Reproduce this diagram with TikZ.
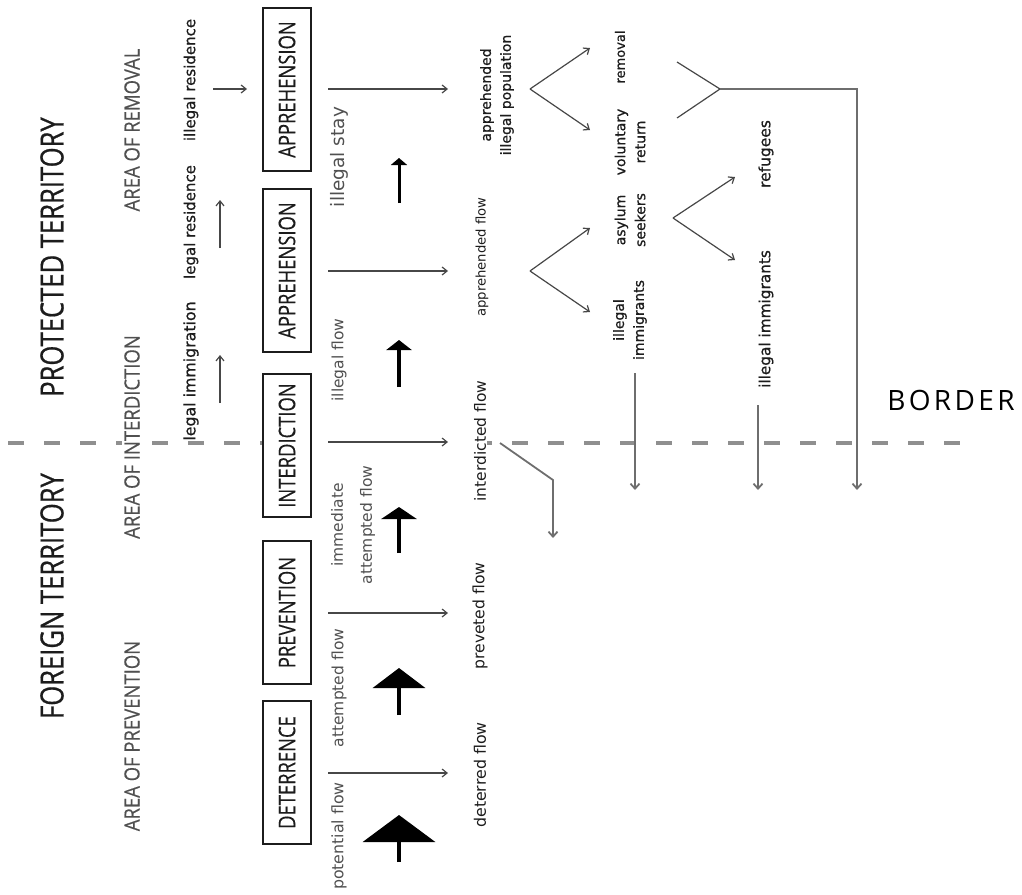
\documentclass[tikz,border=0pt]{standalone}
\usepackage{fontspec}
\setmainfont{DejaVu Sans}
\newfontfamily\bigf[FakeStretch=0.8,FakeBold=0.6]{Open Sans}
\newfontfamily\boxf[FakeStretch=0.8,FakeBold=0.3]{Open Sans}
\newfontfamily\areaf[FakeStretch=0.88,FakeBold=0.3]{Open Sans}
\newfontfamily\labf{DejaVu Sans}
\newfontfamily\labbf[FakeBold=0.8]{DejaVu Sans}
\newfontfamily\bordf[LetterSpace=12]{Open Sans}
\usetikzlibrary{arrows.meta}
\definecolor{ink}{HTML}{1C1C1C}
\definecolor{soft}{HTML}{505050}
\definecolor{linec}{HTML}{474747}
\definecolor{routec}{HTML}{6E6E6E}
\definecolor{bordc}{HTML}{8F8F8F}
\begin{document}
\begin{tikzpicture}[x=1pt,y=-1pt,
  big/.style={rotate=90,inner sep=0pt,text=ink,font=\bigf\fontsize{32}{32}\selectfont},
  area/.style={rotate=90,inner sep=2pt,text=soft,font=\areaf\fontsize{21}{21}\selectfont},
  stagebox/.style={rotate=90,draw=ink,line width=1.6pt,fill=white,minimum height=48.4pt,
    inner sep=0pt,text=ink,font=\boxf\fontsize{23}{23}\selectfont},
  lab/.style n args={2}{rotate=90,inner sep=1pt,align=center,text=ink,font=\labf\fontsize{#1}{#2}\selectfont},
  blab/.style n args={2}{rotate=90,inner sep=1pt,align=center,text=ink,font=\labbf\fontsize{#1}{#2}\selectfont},
  flab/.style n args={2}{rotate=90,inner sep=1pt,align=center,text=soft,font=\labf\fontsize{#1}{#2}\selectfont},
  thinarrow/.style={draw=linec,line width=1.2pt,-{Straight Barb[length=5pt,width=8pt]}},
  thinline/.style={draw=linec,line width=1.2pt},
  routearrow/.style={draw=routec,line width=1.8pt,-{Straight Barb[length=5pt,width=9pt]}},
  fat/.style={draw=black,line width=4pt},
  borderline/.style={draw=bordc,line width=3.5pt,dash pattern=on 16pt off 20pt}
]
\useasboundingbox (0,0) rectangle (1022,894);

% border line
\coordinate (bl0) at (8,443);
\coordinate (bl1) at (312,443);
\coordinate (br0) at (476,443);
\coordinate (br1) at (962,443);
\draw[borderline] (bl0) -- (bl1);
\draw[borderline] (br0) -- (br1);

% titles
\node[big] (prot) at (52,257) {PROTECTED TERRITORY};
\node[big] (forg) at (52,596) {FOREIGN TERRITORY};
\node[area] (arem) at (132,130) {AREA OF REMOVAL};
\node[area,fill=white] (aint) at (132,437) {AREA OF INTERDICTION};
\node[area] (apre) at (132,736) {AREA OF PREVENTION};

% legal column
\node[blab={15}{20}] (ires) at (191,80) {illegal residence};
\node[blab={15}{20}] (lres) at (191,222) {legal residence};
\node[blab={15.8}{20}] (limm) at (191,371) {legal immigration};
\coordinate (r1a) at (213,89);  \coordinate (r1b) at (247,89);
\coordinate (u1a) at (220,248); \coordinate (u1b) at (220,200);
\coordinate (u2a) at (220,403); \coordinate (u2b) at (220,355);
\draw[thinarrow] (r1a) -- (r1b);
\draw[thinarrow] (u1a) -- (u1b);
\draw[thinarrow] (u2a) -- (u2b);

% stage boxes
\node[stagebox,minimum width=163.4pt] (app1) at (287,89.5) {APPREHENSION};
\node[stagebox,minimum width=163.4pt] (app2) at (287,270.5) {APPREHENSION};
\node[stagebox,minimum width=143.4pt] (intd) at (287,445.5) {INTERDICTION};
\node[stagebox,minimum width=143.4pt] (prev) at (287,612.5) {PREVENTION};
\node[stagebox,minimum width=143.4pt] (dete) at (287,772.5) {DETERRENCE};

% flow arrows
\coordinate (a1s) at (328,89);  \coordinate (a1e) at (448,89);
\coordinate (a2s) at (328,271); \coordinate (a2e) at (448,271);
\coordinate (a3s) at (328,442); \coordinate (a3e) at (448,442);
\coordinate (a4s) at (328,613); \coordinate (a4e) at (448,613);
\coordinate (a5s) at (328,773); \coordinate (a5e) at (448,773);
\foreach \i in {1,...,5} \draw[thinarrow] (a\i s) -- (a\i e);

% flow labels
\node[flab={18.5}{20}] (istay) at (339,157) {illegal stay};
\node[flab={15.5}{20}] (iflow) at (339,360) {illegal flow};
\node[flab={15.5}{29}] (imm) at (353,525) {immediate\\attempted flow};
\node[flab={15.5}{20}] (att) at (339,688) {attempted flow};
\node[flab={15.8}{20}] (pot) at (339,836) {potential flow};

% fat arrows
\coordinate (k1a) at (399,203); \coordinate (k1b) at (399,158);
\coordinate (k2a) at (399,387); \coordinate (k2b) at (399,340);
\coordinate (k3a) at (399,553); \coordinate (k3b) at (399,507);
\coordinate (k4a) at (399,715); \coordinate (k4b) at (399,668);
\coordinate (k5a) at (399,862); \coordinate (k5b) at (399,815);
\draw[fat,line width=3pt,-{Triangle[length=7pt,width=16pt]}] (k1a) -- (k1b);
\draw[fat,-{Triangle[length=10pt,width=25pt]}] (k2a) -- (k2b);
\draw[fat,-{Triangle[length=12pt,width=35pt]}] (k3a) -- (k3b);
\draw[fat,-{Triangle[length=20pt,width=52pt]}] (k4a) -- (k4b);
\draw[fat,-{Triangle[length=27pt,width=72pt]}] (k5a) -- (k5b);

% results
\node[blab={14}{20}] (aip) at (497,95) {apprehended\\illegal population};
\node[lab={13.2}{20}] (afl) at (482,257) {apprehended flow};
\node[lab={15.5}{20},fill=white] (ifl) at (480,441) {interdicted flow};
\node[lab={15.6}{20}] (pfl) at (480,616) {preveted flow};
\node[lab={15.8}{20}] (dfl) at (480,775) {deterred flow};

% branches
\coordinate (v1) at (530,89);  \coordinate (v1a) at (590,48);  \coordinate (v1b) at (590,130);
\coordinate (v2) at (530,271); \coordinate (v2a) at (590,228); \coordinate (v2b) at (590,312);
\coordinate (v3) at (673,218); \coordinate (v3a) at (735,177); \coordinate (v3b) at (735,260);
\draw[thinarrow] (v1) -- (v1a);
\draw[thinarrow] (v1) -- (v1b);
\draw[thinarrow] (v2) -- (v2a);
\draw[thinarrow] (v2) -- (v2b);
\draw[thinarrow] (v3) -- (v3a);
\draw[thinarrow] (v3) -- (v3b);

\node[blab={13}{20}] (remo) at (620,57) {removal};
\node[blab={14}{20}] (volr) at (630,142) {voluntary\\return};
\node[blab={14}{20}] (asyl) at (630,220) {asylum\\seekers};
\node[blab={14}{20}] (ilim) at (630,320) {illegal\\immigrants};
\node[blab={15.5}{20}] (refu) at (766,154) {refugees};
\node[blab={15.3}{20}] (ilim2) at (766,319) {illegal immigrants};

% removal route
\coordinate (m1) at (677,62); \coordinate (m2) at (677,118);
\coordinate (mj) at (720,89); \coordinate (mc) at (857,89); \coordinate (me) at (857,490);
\draw[thinline] (m1) -- (mj) -- (m2);
\draw[routearrow] (mj) -- (mc) -- (me);

% down arrows
\coordinate (d1a) at (635,373); \coordinate (d1b) at (635,490);
\coordinate (d2a) at (758,405); \coordinate (d2b) at (758,490);
\draw[routearrow] (d1a) -- (d1b);
\draw[routearrow] (d2a) -- (d2b);

% interdicted branch
\coordinate (ib0) at (500,443); \coordinate (ib1) at (553,480); \coordinate (ib2) at (553,538);
\draw[routearrow] (ib0) -- (ib1) -- (ib2);

% BORDER
\node[inner sep=0pt,text=black,font=\bordf\fontsize{28}{28}\selectfont] (bord) at (951,400) {BORDER};
\end{tikzpicture}
\end{document}
